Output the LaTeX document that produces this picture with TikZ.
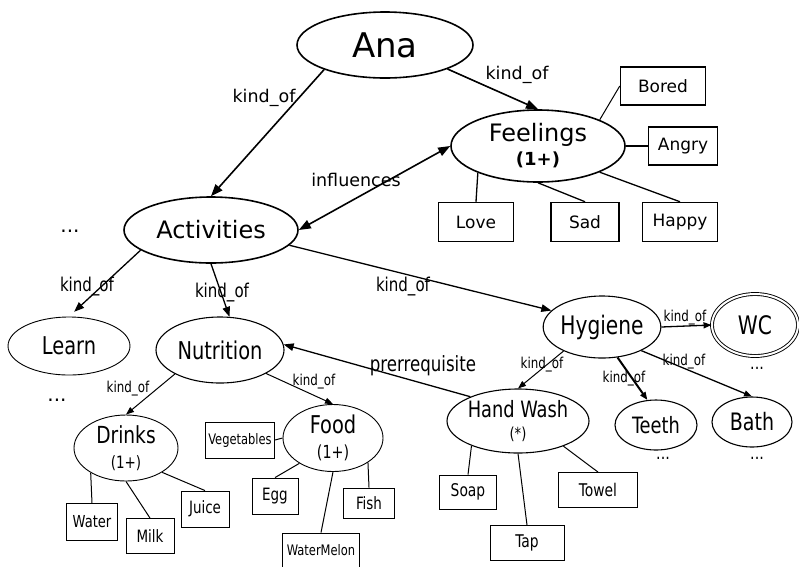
\documentclass[tikz,border=0pt]{standalone}
\usepackage{fontspec}
\setmainfont{DejaVu Sans}
\newfontfamily\cond[FakeStretch=0.88]{DejaVu Sans Condensed}
\usetikzlibrary{arrows.meta,shapes.geometric}
\newcommand\pxsize[1]{\fontsize{#1}{#1}\selectfont}

\tikzset{
  big/.style={ellipse, draw, line width=1.6pt, inner sep=0pt},
  mid/.style={ellipse, draw, line width=1.1pt, inner sep=0pt},
  tag/.style={rectangle, draw, line width=1.5pt, inner sep=0pt, font=\pxsize{17}},
  leaf/.style={rectangle, draw, line width=0.9pt, inner sep=0pt},
  rel/.style={-{Triangle[length=12pt,width=9pt]}, line width=1.6pt},
  relm/.style={-{Triangle[length=10pt,width=7.5pt]}, line width=1.3pt},
  sub/.style={-{Triangle[length=8pt,width=6pt]}, line width=1pt},
  lnk/.style={line width=1pt},
  lab/.style={inner sep=0pt, font=\pxsize{17.5}},
  labc/.style={inner sep=0pt, font=\cond\pxsize{19}},
  labs/.style={inner sep=0pt, font=\cond\pxsize{15}},
  more/.style={inner sep=0pt},
}

\begin{document}
\begin{tikzpicture}[x=1pt,y=-1pt]
\useasboundingbox (0,0) rectangle (799,566);

% concept nodes
\node[big, minimum width=176pt, minimum height=66pt, font=\pxsize{34}] (ana) at (385,45) {Ana};
\node[big, minimum width=174pt, minimum height=72pt, align=center, font=\fontsize{24}{24}\selectfont] (feel) at (538,146)
  {Feelings\\{\bfseries\pxsize{18}(1+)}};
\node[big, minimum width=174pt, minimum height=66pt, font=\pxsize{24}] (act) at (211,230) {Activities};

\node[ellipse, draw, line width=0.9pt, inner sep=0pt, minimum width=122pt, minimum height=58pt, font=\cond\pxsize{24.5}] (learn) at (69,346) {Learn};
\node[mid, minimum width=128pt, minimum height=66pt, font=\cond\pxsize{24.5}] (nut) at (220,350) {Nutrition};
\node[mid, minimum width=112pt, minimum height=62pt, font=\cond\pxsize{25.5}] (hyg) at (602,327) {Hygiene};
\node[ellipse, draw, line width=0.9pt, double, double distance=2pt, inner sep=0pt, minimum width=86pt, minimum height=62pt, font=\cond\pxsize{25.5}] (wc) at (755,325) {WC};
\node[mid, minimum width=126pt, minimum height=64pt, align=center, font=\cond\fontsize{22.5}{22}\selectfont] (hw) at (518,421)
  {Hand Wash\\{\pxsize{16.5}(*)}};
\node[mid, minimum width=82pt, minimum height=50pt, font=\cond\pxsize{22.5}] (teeth) at (656,425) {Teeth};
\node[mid, minimum width=80pt, minimum height=50pt, font=\cond\pxsize{24}] (bath) at (752,422) {Bath};
\node[mid, line width=0.9pt, minimum width=104pt, minimum height=66pt, align=center, font=\cond\fontsize{23.5}{25}\selectfont] (drinks) at (126,448)
  {Drinks\\{\pxsize{17}(1+)}};
\node[mid, line width=0.9pt, minimum width=100pt, minimum height=67pt, align=center, font=\cond\fontsize{24.5}{25}\selectfont] (food) at (333,438)
  {Food\\{\pxsize{18}(1+)}};

% feeling values
\node[tag, minimum width=85pt, minimum height=38pt] (bored) at (663,86) {Bored};
\node[tag, minimum width=69pt, minimum height=38pt] (angry) at (683,146) {Angry};
\node[tag, minimum width=75pt, minimum height=39pt] (love) at (476,222) {Love};
\node[tag, minimum width=68pt, minimum height=39pt] (sad) at (585,222) {Sad};
\node[tag, minimum width=75pt, minimum height=39pt] (happy) at (680,222) {Happy};

% items
\node[leaf, minimum width=69pt, minimum height=36pt, font=\cond\pxsize{14.5}] (veg) at (240,440) {Vegetables};
\node[leaf, minimum width=46pt, minimum height=36pt, font=\cond\pxsize{17}] (egg) at (275,496) {Egg};
\node[leaf, minimum width=51pt, minimum height=30pt, font=\cond\pxsize{17}] (fish) at (369,503) {Fish};
\node[leaf, minimum width=77pt, minimum height=34pt, font=\cond\pxsize{14.5}] (wm) at (321,550) {WaterMelon};
\node[leaf, minimum width=51pt, minimum height=37pt, font=\cond\pxsize{16.5}] (water) at (92,522) {Water};
\node[leaf, minimum width=48pt, minimum height=35pt, font=\cond\pxsize{17}] (milk) at (150,536) {Milk};
\node[leaf, minimum width=48pt, minimum height=36pt, font=\cond\pxsize{17}] (juice) at (205,509) {Juice};
\node[leaf, minimum width=57pt, minimum height=34pt, font=\cond\pxsize{17.5}] (soap) at (468,492) {Soap};
\node[leaf, minimum width=74pt, minimum height=35pt, font=\cond\pxsize{17.5}] (tap) at (527,543) {Tap};
\node[leaf, minimum width=79pt, minimum height=35pt, font=\cond\pxsize{17.5}] (towel) at (598,490) {Towel};

% ellipsis marks
\node[more, font=\pxsize{20}] (m1) at (70,231) {...};
\node[more, font=\pxsize{20}] (m2) at (57,400) {...};
\node[more, font=\cond\pxsize{18}] (m3) at (757,368) {...};
\node[more, font=\cond\pxsize{18}] (m4) at (663,458) {...};
\node[more, font=\cond\pxsize{18}] (m5) at (757,458) {...};

% relations
\draw[rel] (ana.202) -- (act.north);
\draw[rel] (ana.339) -- (feel.north);
\draw[{Triangle[length=12pt,width=9pt]}-{Triangle[length=12pt,width=9pt]}, line width=1.6pt] (act.east) -- (feel.west);
\draw[relm, shorten >=7pt] (act.196) -- (learn.north);
\draw[relm] (act.south) -- (nut.74);
\draw[relm] (act.349) -- (hyg.162);
\draw[relm] (hw.153) -- (nut.5);
\draw[sub, line width=1.3pt] (hyg.east) -- (wc.west);
\draw[sub] (hyg.212) -- (hw.north);
\draw[sub, line width=2pt] (hyg.297) -- (teeth.109);
\draw[sub, line width=1.3pt] (hyg.329) -- (bath.north);
\draw[sub] (nut.208) -- (drinks.north);
\draw[sub] (nut.333) -- (food.north);

% attribute links
\draw[lnk] (feel.23) -- (bored.west);
\draw[lnk, line width=2pt] (feel.east) -- (angry.west);
\draw[lnk, line width=1.3pt] (feel.204) -- (love.north);
\draw[lnk, line width=1.3pt] (feel.south) -- (sad.north);
\draw[lnk, line width=1.3pt] (feel.337) -- (happy.north);
\draw[lnk] (drinks.215) -- (water.north);
\draw[lnk] (drinks.south) -- (milk.north);
\draw[lnk] (drinks.326) -- (juice.north);
\draw[lnk] (veg.east) -- (food.west);
\draw[lnk] (food.217) -- (egg.north);
\draw[lnk] (food.325) -- (fish.north);
\draw[lnk] (food.south) -- (wm.north);
\draw[lnk] (hw.208) -- (soap.north);
\draw[lnk] (hw.south) -- (tap.north);
\draw[lnk] (hw.331) -- (towel.north);

% relation labels
\node[lab] (l1) at (264,98) {kind\_of};
\node[lab] (l2) at (517,75) {kind\_of};
\node[lab] (l3) at (356,180) {influences};
\node[labc] (l4) at (87,287) {kind\_of};
\node[labc] (l5) at (222,293) {kind\_of};
\node[labc] (l6) at (403,287) {kind\_of};
\node[inner sep=0pt, font=\cond\pxsize{21}] (l7) at (423,366) {prerrequisite};
\node[labs] (l8) at (685,318) {kind\_of};
\node[labs] (l9) at (542,365) {kind\_of};
\node[labs] (l10) at (624,379) {kind\_of};
\node[labs] (l11) at (684,362) {kind\_of};
\node[labs] (l12) at (128,389) {kind\_of};
\node[labs] (l13) at (314,382) {kind\_of};
\end{tikzpicture}
\end{document}
